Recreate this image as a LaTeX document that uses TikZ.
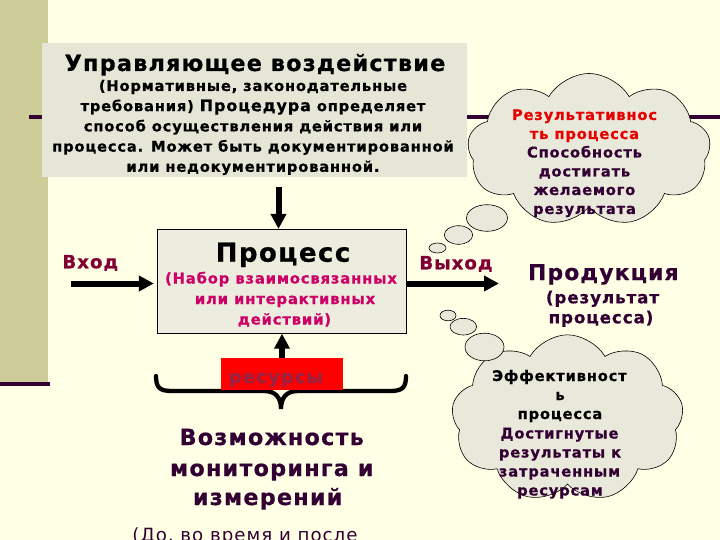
\documentclass[tikz,border=0pt]{standalone}
\usepackage{fontspec}
\setmainfont{DejaVu Sans}
\newfontfamily\ls{DejaVu Sans}[LetterSpace=5.5, BoldFeatures={FakeBold=0.6}]
\usetikzlibrary{arrows.meta,shapes.symbols,shapes.geometric}
\definecolor{bg}{HTML}{FFFFE6}
\definecolor{olive}{HTML}{CCCC99}
\definecolor{dpurp}{HTML}{330033}
\definecolor{boxfill}{HTML}{E6E6D7}
\definecolor{procfill}{HTML}{ECECDF}
\definecolor{cloudfill}{HTML}{E9E9DB}
\definecolor{maroonc}{HTML}{800033}
\definecolor{magc}{HTML}{CC0066}
\definecolor{resred}{HTML}{FF0000}
\definecolor{restext}{HTML}{992244}
\definecolor{cred}{HTML}{E60000}
\newcommand{\fsz}[1]{\fontsize{#1}{#1}\selectfont}
\begin{document}
\begin{tikzpicture}[x=1pt,y=-1pt,
  lbl/.style={inner sep=0, anchor=base},
  arr/.style={line width=6pt, -{Triangle[length=15pt,width=15pt]}},
  bubble/.style={ellipse, draw=black, line width=0.6pt, fill=cloudfill, inner sep=0},
  cloudbox/.style={cloud, cloud puffs=9, cloud puff arc=120, cloud ignores aspect, draw=black, line width=0.6pt, fill=cloudfill, inner sep=0}]
\fill[bg] (0,0) rectangle (720,540);
\useasboundingbox (0,0) rectangle (720,540);
\fill[olive] (0,0) rectangle (48,382);
\fill[dpurp] (0,382) rectangle (50,386);
\fill[dpurp] (29,115.5) rectangle (720,119.5);
% control box
\node[fill=boxfill, minimum width=425pt, minimum height=134pt, inner sep=0] (ctrl) at (254.5,110) {};
\node[lbl, font=\ls\bfseries\fsz{22.3}] (ttl) at (255,71) {Управляющее воздействие};
\node[lbl, font=\ls\bfseries\fsz{14.7}] (b1) at (253,91) {(Нормативные, законодательные};
\node[lbl, font=\ls\bfseries\fsz{14.7}] (b2) at (253,111.2) {требования) {\fsz{16}Процедура} определяет};
\node[lbl, font=\ls\bfseries\fsz{14.7}] (b3) at (253,131.4) {способ осуществления действия или};
\node[lbl, font=\ls\bfseries\fsz{14.7}] (b4) at (253,151.6) {процесса. Может быть документированной};
\node[lbl, font=\ls\bfseries\fsz{14.7}] (b5) at (253,171.8) {или недокументированной.};
% process box
\node[draw=black, line width=0.8pt, fill=procfill, minimum width=249.5pt, minimum height=104pt, inner sep=0] (proc) at (282,281.3) {};
\node[lbl, font=\ls\bfseries\fsz{26}] (pt) at (283,261.7) {Процесс};
\node[lbl, font=\ls\bfseries\fsz{14.8}, text=magc] (p1) at (281,283.5) {(Набор взаимосвязанных};
\node[lbl, font=\ls\bfseries\fsz{14.8}, text=magc] (p2) at (285,304) {или интерактивных};
\node[lbl, font=\ls\bfseries\fsz{14.8}, text=magc] (p3) at (284.5,324.5) {действий)};
% arrows
\coordinate (dtop) at (278.5,187);
\draw[arr] (dtop) -- (dtop |- proc.north);
\coordinate (inS) at (71,283.5);
\draw[arr, shorten >=3pt] (inS) -- (inS -| proc.west);
\coordinate (outE) at (499,283.5);
\draw[arr] (outE -| proc.east) -- (outE);
\node[lbl, font=\ls\bfseries\fsz{18.2}, text=maroonc] (vin) at (90.3,268.3) {Вход};
\node[lbl, font=\ls\bfseries\fsz{18.2}, text=maroonc] (vout) at (456,269.3) {Выход};
% product
\node[lbl, font=\ls\bfseries\fsz{21.8}, text=dpurp] (prod) at (603.3,280) {Продукция};
\node[lbl, font=\ls\bfseries\fsz{16.7}, text=dpurp] (prod1) at (602.5,303.3) {(результат};
\node[lbl, font=\ls\bfseries\fsz{16.7}, text=dpurp] (prod2) at (601,323.3) {процесса)};
% brace
\draw[line width=4.3pt, line cap=round] (156,376) .. controls (156,388) and (160,391) .. (172,391) -- (264,391) .. controls (276,391) and (281,398) .. (281,409) .. controls (281,398) and (286,391) .. (298,391) -- (390,391) .. controls (402,391) and (406,388) .. (406,376);
% resources
\node[fill=resred, minimum width=122pt, minimum height=32pt, inner sep=0] (res) at (282,374) {};
\node[lbl, font=\ls\bfseries\fsz{18.2}, text=restext] (restxt) at (276,383) {ресурсы};
\draw[arr] (res.north) -- (proc.south);
% monitoring
\node[lbl, font=\ls\bfseries\fsz{22.3}, text=dpurp] (m1) at (271.7,445) {Возможность};
\node[lbl, font=\ls\bfseries\fsz{22.3}, text=dpurp] (m2) at (271.7,476) {мониторинга и};
\node[lbl, font=\ls\bfseries\fsz{22.3}, text=dpurp] (m3) at (267.7,505) {измерений};
\node[lbl, font=\ls\fsz{18.2}, text=dpurp] (m4) at (245,541) {(До, во время и после};
% cloud 1
\node[cloudbox, minimum width=243pt, minimum height=153pt] (c1) at (589,150) {};
\node[bubble, minimum width=41pt, minimum height=26.6pt] (c1a) at (487,218) {};
\node[bubble, minimum width=28.4pt, minimum height=18.6pt] (c1b) at (458.5,235) {};
\node[bubble, minimum width=17pt, minimum height=10pt] (c1c) at (437.5,248) {};
\node[lbl, font=\ls\bfseries\fsz{14.7}, text=cred] (r1) at (584.5,120) {Результативнос};
\node[lbl, font=\ls\bfseries\fsz{14.7}, text=cred] (r2) at (584.5,139) {ть процесса};
\node[lbl, font=\ls\bfseries\fsz{14.7}, text=dpurp] (r3) at (584.5,157.5) {Способность};
\node[lbl, font=\ls\bfseries\fsz{14.7}, text=dpurp] (r4) at (584.5,176.5) {достигать};
\node[lbl, font=\ls\bfseries\fsz{14.7}, text=dpurp] (r5) at (584.5,195) {желаемого};
\node[lbl, font=\ls\bfseries\fsz{14.7}, text=dpurp] (r6) at (584.5,214) {результата};
% cloud 2
\node[cloudbox, minimum width=232pt, minimum height=167pt] (c2) at (567.5,418.3) {};
\node[bubble, minimum width=16pt, minimum height=10.6pt] (c2c) at (448,315.5) {};
\node[bubble, minimum width=26.6pt, minimum height=16.6pt] (c2b) at (463.3,326.7) {};
\node[bubble, minimum width=39pt, minimum height=27.6pt] (c2a) at (484.5,347) {};
\node[lbl, font=\ls\bfseries\fsz{14.7}] (e1) at (559.5,381) {Эффективност};
\node[lbl, font=\ls\bfseries\fsz{14.7}] (e2) at (560,400) {ь};
\node[lbl, font=\ls\bfseries\fsz{14.7}] (e3) at (560,419) {процесса};
\node[lbl, font=\ls\bfseries\fsz{14.7}, text=dpurp] (e4) at (559.5,438.5) {Достигнутые};
\node[lbl, font=\ls\bfseries\fsz{14.7}, text=dpurp] (e5) at (560,457.5) {результаты к};
\node[lbl, font=\ls\bfseries\fsz{14.7}, text=dpurp] (e6) at (559.5,476.5) {затраченным};
\node[lbl, font=\ls\bfseries\fsz{14.7}, text=dpurp] (e7) at (560,495.5) {ресурсам};
\end{tikzpicture}
\end{document}
